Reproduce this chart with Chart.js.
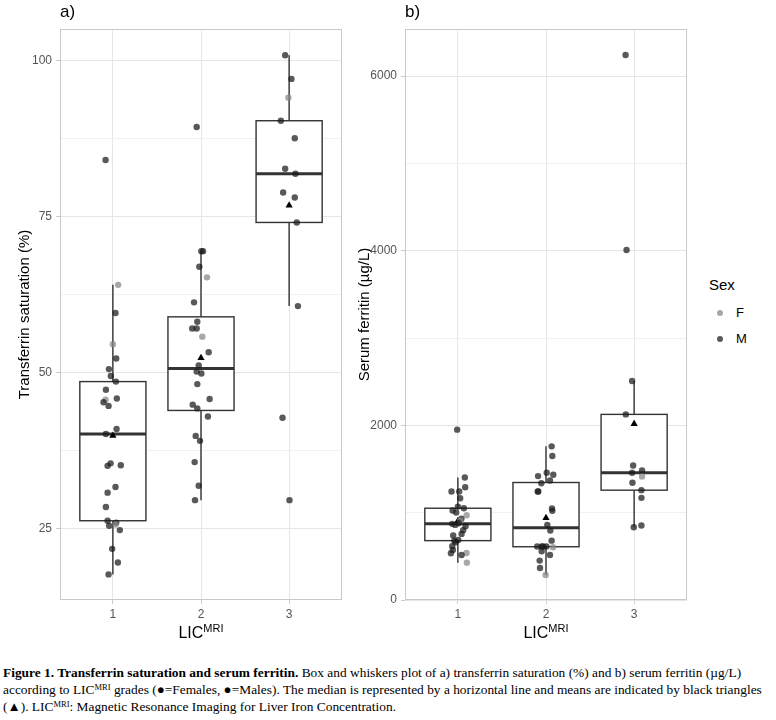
<!DOCTYPE html>
<html>
<head>
    <title>Transferrin saturation and serum ferritin</title>
    <script src="https://cdn.jsdelivr.net/npm/chart.js@4.4.0/dist/chart.umd.min.js"></script>
    <style>
        body {
            margin: 0;
            background: #fff;
            font-family: "Liberation Sans", Arial, sans-serif;
        }
        #fig { position: relative; width: 776px; height: 720px; }
        .panel { position: absolute; top: 0; width: 350px; height: 625px; }
        .tag { position: absolute; top: 2px; font-size: 17px; color: #000; }
        .xtitle { position: absolute; top: 622px; width: 120px; text-align: center; font-size: 16px; color: #000; }
        .xtitle sup { font-size: 11px; }
        #legend { position: absolute; left: 698px; top: 276px; width: 78px; height: 80px; }
        #legend .ttl { position: absolute; left: 11px; top: 0; font-size: 15px; }
        #legend .dot { position: absolute; left: 19px; width: 6px; height: 6px; border-radius: 50%; }
        #legend .lab { position: absolute; left: 38px; font-size: 13px; }
        #caption {
            position: absolute; left: 3px; top: 664px;
            font-family: "Liberation Serif", "Times New Roman", serif;
            font-size: 13.4px; line-height: 17px; white-space: nowrap; color: #000;
        }
        #caption sup { font-size: 8.5px; line-height: 0; vertical-align: 4px; }
    </style>
</head>
<body>
<div id="fig">
    <div class="panel" style="left:0"><canvas id="tsatChart"></canvas></div>
    <div class="panel" style="left:345px"><canvas id="ferrChart"></canvas></div>
    <div class="tag" style="left:60px">a)</div>
    <div class="tag" style="left:405px">b)</div>
    <div class="xtitle" style="left:141px">LIC<sup>MRI</sup></div>
    <div class="xtitle" style="left:486px">LIC<sup>MRI</sup></div>
    <div id="legend">
        <div class="ttl">Sex</div>
        <span class="dot" style="top:34px;background:#a8a8a8"></span><span class="lab" style="top:29px">F</span>
        <span class="dot" style="top:60px;background:#595959"></span><span class="lab" style="top:55px">M</span>
    </div>
    <div id="caption">
        <b>Figure 1. Transferrin saturation and serum ferritin.</b> Box and whiskers plot of a) transferrin saturation (%) and b) serum ferritin (µg/L)<br>
        according to LIC<sup>MRI</sup> grades (●=Females, ●=Males). The median is represented by a horizontal line and means are indicated by black triangles<br>
        (▲). LIC<sup>MRI</sup>: Magnetic Resonance Imaging for Liver Iron Concentration.
    </div>
</div>

<script>
    const licGrades = [1, 2, 3];

    // a) transferrin saturation (%), one entry per patient
    const tsatGrade = [
        1, 1, 1, 1, 1, 1, 1, 1, 1, 1, 1, 1, 1, 1, 1, 1, 1, 1, 1, 1, 1, 1, 1, 1, 1, 1, 1, 1, 1,
        2, 2, 2, 2, 2, 2, 2, 2, 2, 2, 2, 2, 2, 2, 2, 2, 2, 2, 2, 2, 2, 2, 2, 2,
        3, 3, 3, 3, 3, 3, 3, 3, 3, 3, 3, 3, 3
    ];
    const tsatJitter = [
        -0.083, 0.06, 0.03, 0, 0.038, -0.045, -0.023, 0.034, -0.079, 0.045, -0.083, -0.106, -0.049, 0.042, -0.079,
        -0.026, -0.06, 0.09, 0.03, -0.06, -0.079, -0.06, 0.038, 0.03, -0.042, 0.079, -0.008, 0.057, -0.049,
        -0.049, 0.004, 0.023, -0.019, 0.068, -0.079, -0.042, -0.1, -0.049, 0.015, 0.087, -0.026, -0.049, 0.004,
        -0.042, 0.098, -0.094, -0.042, 0.079, -0.06, -0.011, -0.072, -0.026, -0.068,
        -0.045, 0.026, -0.008, -0.094, 0.064, -0.045, 0.072, -0.068, 0.064, 0.087, 0.1, -0.075, 0.004
    ];
    const tsatValue = [
        84.0, 64.0, 59.5, 54.5, 52.2, 50.5, 49.4, 48.5, 47.2, 45.8, 45.6, 45.2, 44.6, 40.9, 40.1,
        35.4, 35.0, 35.1, 31.6, 30.7, 28.4, 26.2, 25.9, 25.6, 25.4, 24.7, 21.7, 19.5, 17.6,
        89.3, 69.4, 69.4, 66.9, 65.2, 61.2, 58.1, 57.0, 57.0, 55.7, 53.2, 51.1, 50.1, 49.8,
        48.1, 45.7, 44.8, 44.2, 42.9, 39.8, 39.0, 35.6, 31.8, 29.5,
        100.8, 97.0, 94.0, 90.3, 87.5, 82.6, 81.8, 78.8, 78.0, 74.0, 60.6, 42.7, 29.5
    ];
    const tsatSex = [
        'M', 'F', 'M', 'F', 'M', 'M', 'M', 'M', 'M', 'M', 'F', 'M', 'M', 'M', 'M',
        'M', 'M', 'M', 'M', 'M', 'M', 'M', 'M', 'F', 'M', 'M', 'M', 'M', 'M',
        'M', 'M', 'M', 'M', 'F', 'M', 'M', 'M', 'M', 'F', 'M', 'M', 'M', 'M',
        'M', 'M', 'M', 'M', 'M', 'M', 'M', 'M', 'M', 'M',
        'M', 'M', 'F', 'M', 'M', 'M', 'M', 'M', 'M', 'M', 'M', 'M', 'M'
    ];
    const tsatMajorTicks = [25, 50, 75, 100];
    const tsatMinorTicks = [37.5, 62.5, 87.5];

    // b) serum ferritin (µg/L), one entry per patient
    const ferrGrade = tsatGrade;
    const ferrJitter = [
        -0.008, 0.079, 0.083, -0.072, 0.015, 0.026, 0.0, 0.068, -0.06, -0.019, 0.1, 0.04, 0.026, 0.008, -0.064,
        -0.03, 0.087, 0.06, 0.042, -0.053, 0.004, -0.026, -0.04, -0.064, -0.057, -0.079, 0.098, 0.042, 0.102,
        0.064, 0.072, 0.008, -0.09, 0.083, -0.053, 0.045, -0.094, -0.087, 0.068, 0.072, 0.015, 0.049, 0.064,
        -0.1, -0.049, -0.034, 0.004, 0.079, -0.049, 0.045, -0.072, -0.068, -0.004,
        -0.097, -0.086, -0.023, -0.094, -0.011, 0.09, -0.023, 0.09, -0.019, 0.083, 0.083, 0.083, -0.004
    ];
    const ferrValue = [
        1951, 1403, 1292, 1243, 1243, 1166, 1070, 1051, 1025, 1002, 971, 930, 910, 879, 872,
        860, 845, 800, 757, 738, 688, 661, 680, 615, 574, 535, 539, 516, 428,
        1760, 1650, 1457, 1419, 1434, 1338, 1369, 1243, 1243, 1048, 1021, 861, 795, 680,
        612, 612, 612, 612, 604, 558, 516, 451, 367, 287,
        6242, 4008, 2509, 2126, 1541, 1484, 1457, 1415, 1343, 1258, 1170, 853, 833
    ];
    const ferrSex = [
        'M', 'M', 'M', 'M', 'M', 'M', 'M', 'M', 'M', 'M', 'F', 'M', 'F', 'M', 'M',
        'M', 'M', 'M', 'M', 'M', 'M', 'M', 'M', 'M', 'M', 'M', 'F', 'M', 'F',
        'M', 'M', 'M', 'M', 'M', 'M', 'M', 'M', 'M', 'M', 'M', 'M', 'M', 'M',
        'M', 'M', 'M', 'M', 'F', 'M', 'M', 'M', 'M', 'F',
        'M', 'M', 'M', 'M', 'M', 'M', 'M', 'F', 'M', 'M', 'M', 'M', 'M'
    ];
    const ferrMajorTicks = [0, 2000, 4000, 6000];
    const ferrMinorTicks = [1000, 3000, 5000];

    const sexColors = { F: 'rgba(135,135,135,0.72)', M: 'rgba(25,25,25,0.72)' };

    // quantile as in R type 7
    function quantile(sorted, p) {
        const h = (sorted.length - 1) * p;
        const lo = Math.floor(h);
        return sorted[lo] + (h - lo) * ((sorted[lo + 1] ?? sorted[lo]) - sorted[lo]);
    }

    function boxStats(grades, values) {
        return licGrades.map(function(g) {
            const v = values.filter(function(_, i) { return grades[i] === g; }).sort(function(a, b) { return a - b; });
            const q1 = quantile(v, 0.25), q3 = quantile(v, 0.75), iqr = q3 - q1;
            const inside = v.filter(function(d) { return d >= q1 - 1.5 * iqr && d <= q3 + 1.5 * iqr; });
            return {
                grade: g, q1: q1, median: quantile(v, 0.5), q3: q3,
                lo: inside[0], hi: inside[inside.length - 1],
                mean: v.reduce(function(a, b) { return a + b; }, 0) / v.length
            };
        });
    }

    function boxPlugin(stats) {
        return {
            id: 'boxes',
            beforeDatasetsDraw(chart) {
                const ctx = chart.ctx, x = chart.scales.x, y = chart.scales.y;
                ctx.save();
                stats.forEach(function(s) {
                    const l = x.getPixelForValue(s.grade - 0.375), r = x.getPixelForValue(s.grade + 0.375);
                    const cx = x.getPixelForValue(s.grade);
                    ctx.strokeStyle = '#333333';
                    ctx.lineWidth = 1.4;
                    ctx.beginPath();
                    ctx.moveTo(cx, y.getPixelForValue(s.hi));
                    ctx.lineTo(cx, y.getPixelForValue(s.q3));
                    ctx.moveTo(cx, y.getPixelForValue(s.q1));
                    ctx.lineTo(cx, y.getPixelForValue(s.lo));
                    ctx.stroke();
                    const top = y.getPixelForValue(s.q3), bot = y.getPixelForValue(s.q1);
                    ctx.fillStyle = '#ffffff';
                    ctx.fillRect(l, top, r - l, bot - top);
                    ctx.strokeRect(l, top, r - l, bot - top);
                    ctx.lineWidth = 3;
                    ctx.beginPath();
                    ctx.moveTo(l, y.getPixelForValue(s.median));
                    ctx.lineTo(r, y.getPixelForValue(s.median));
                    ctx.stroke();
                });
                ctx.restore();
            },
            afterDraw(chart) {
                const a = chart.chartArea, ctx = chart.ctx;
                ctx.save();
                ctx.strokeStyle = '#c9c9c9';
                ctx.lineWidth = 1;
                ctx.strokeRect(a.left + 0.5, a.top + 0.5, a.right - a.left - 1, a.bottom - a.top - 1);
                ctx.restore();
            }
        };
    }

    function makeChart(canvasId, grades, jitter, values, sex, yMin, yMax, majors, minors, yTitle, titlePad) {
        const stats = boxStats(grades, values);
        const points = values.map(function(v, i) { return { x: grades[i] + jitter[i], y: v }; });
        const allTicks = majors.concat(minors).sort(function(a, b) { return a - b; });

        new Chart(document.getElementById(canvasId).getContext('2d'), {
            type: 'scatter',
            data: {
                datasets: [{
                    label: 'patients',
                    data: points,
                    backgroundColor: sex.map(function(s) { return sexColors[s]; }),
                    borderWidth: 0,
                    pointRadius: 3.2
                }, {
                    label: 'mean',
                    data: stats.map(function(s) { return { x: s.grade, y: s.mean }; }),
                    pointStyle: 'triangle',
                    backgroundColor: '#000000',
                    borderColor: '#000000',
                    borderWidth: 0,
                    pointRadius: 4.2
                }]
            },
            options: {
                responsive: true,
                maintainAspectRatio: false,
                animation: false,
                events: [],
                layout: { padding: { top: 29, right: 8, left: 0, bottom: 0 } },
                plugins: { legend: { display: false }, tooltip: { enabled: false } },
                scales: {
                    x: {
                        type: 'linear',
                        min: 0.4,
                        max: 3.6,
                        afterBuildTicks: function(s) { s.ticks = licGrades.map(function(v) { return { value: v }; }); },
                        afterFit: function(s) { s.height = 25; },
                        ticks: {
                            callback: function(v) { return String(v); },
                            color: '#555555',
                            font: { family: 'Liberation Sans', size: 12 },
                            padding: 3,
                            maxRotation: 0
                        },
                        grid: { color: '#e6e6e6', tickColor: '#cccccc', tickLength: 4 },
                        border: { display: false }
                    },
                    y: {
                        min: yMin,
                        max: yMax,
                        afterBuildTicks: function(s) {
                            s.ticks = allTicks.filter(function(v) { return v >= yMin && v <= yMax; })
                                .map(function(v) { return { value: v }; });
                        },
                        afterFit: function(s) { s.width = 60; },
                        ticks: {
                            callback: function(v) { return majors.includes(v) ? String(v) : ''; },
                            color: '#555555',
                            font: { family: 'Liberation Sans', size: 12 },
                            padding: 4
                        },
                        grid: {
                            color: function(c) { return majors.includes(c.tick.value) ? '#e6e6e6' : '#f1f1f1'; },
                            tickColor: function(c) { return majors.includes(c.tick.value) ? '#cccccc' : 'rgba(0,0,0,0)'; },
                            tickLength: 4
                        },
                        border: { display: false },
                        title: {
                            display: true,
                            text: yTitle,
                            color: '#000000',
                            font: { family: 'Liberation Sans', size: 15 },
                            padding: { top: titlePad, bottom: 0 }
                        }
                    }
                }
            },
            plugins: [boxPlugin(stats)]
        });
    }

    document.addEventListener('DOMContentLoaded', function() {
        makeChart('tsatChart', tsatGrade, tsatJitter, tsatValue, tsatSex, 13.5, 105,
            tsatMajorTicks, tsatMinorTicks, 'Transferrin saturation (%)', 16);
        makeChart('ferrChart', ferrGrade, ferrJitter, ferrValue, ferrSex, 0, 6540,
            ferrMajorTicks, ferrMinorTicks, 'Serum ferritin (µg/L)', 11);
    });
</script>
</body>
</html>
